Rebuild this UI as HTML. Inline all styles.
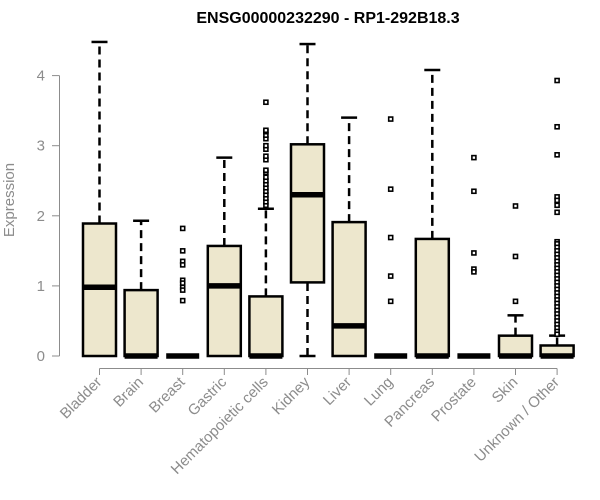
<!DOCTYPE html>
<html><head><meta charset="utf-8"><style>
body{margin:0;background:#fff;}
svg{display:block;font-family:"Liberation Sans",Arial,sans-serif;}
</style></head><body>
<svg id="chart" width="600" height="500" viewBox="0 0 600 500">
<text x="328" y="23" text-anchor="middle" font-size="16" font-weight="bold">ENSG00000232290 - RP1-292B18.3</text>
<text transform="translate(14,200) rotate(-90)" text-anchor="middle" font-size="15" fill="#8c8c8c">Expression</text>
<g id="yaxis"></g>
<g id="xaxis"></g>
<g id="boxes"></g>
</svg>
<script>
const categories=["Bladder","Brain","Breast","Gastric","Hematopoietic cells","Kidney","Liver","Lung","Pancreas","Prostate","Skin","Unknown / Other"];
const whiskerLow=[0,0,0,0,0,0,0,0,0,0,0,0];
const q1=[0,0,0,0,0,1.05,0,0,0,0,0,0];
const medians=[0.98,0,0,1.0,0,2.30,0.43,0,0,0,0,0];
const q3=[1.89,0.94,0,1.57,0.85,3.02,1.91,0,1.67,0,0.29,0.15];
const whiskerHigh=[4.48,1.93,0,2.83,2.10,4.45,3.40,0,4.08,0,0.58,0.29];
const outliers=[[],[],[1.82,1.50,1.35,1.30,1.08,1.04,0.98,0.94,0.79],[],
[2.15,2.2,2.25,2.3,2.35,2.4,2.45,2.5,2.55,2.62,2.65,2.8,2.85,2.95,3.0,3.1,3.15,3.2,3.22,3.62],
[],[],[3.38,2.38,1.69,1.14,0.78],[],[2.83,2.35,1.47,1.24,1.20],[2.14,1.42,0.78],
[3.93,3.27,2.87,2.27,2.22,2.15,2.05,1.63,1.6,1.55,1.5,1.45,1.4,1.35,1.3,1.25,1.2,1.15,1.1,1.05,1.0,0.95,0.9,0.85,0.8,0.75,0.7,0.65,0.6,0.55,0.5,0.45,0.4,0.35,0.31]];
const yTicks=[0,1,2,3,4];
const NS="http://www.w3.org/2000/svg";
function y(v){return 356-v*70.1;}
function x(i){return 99.5+i*41.6;}
function mk(tag,attrs,parent){const e=document.createElementNS(NS,tag);for(const k in attrs)e.setAttribute(k,attrs[k]);parent.appendChild(e);return e;}
const ya=document.getElementById('yaxis'),xa=document.getElementById('xaxis'),bx=document.getElementById('boxes');
let l=mk('line',{x1:59.5,x2:59.5,y1:y(0),y2:y(4),stroke:'#8c8c8c'},ya);


yTicks.forEach(t=>{
 const tk=mk('line',{x1:52,x2:59.5,y1:y(t),y2:y(t),stroke:'#8c8c8c'},ya);
 
 
 const tx=mk('text',{x:45,y:y(t)+5,'text-anchor':'end','font-size':15,fill:'#8c8c8c'},ya);
 tx.textContent=t;
 
 
});
l=mk('line',{x1:x(0),x2:x(categories.length-1),y1:368.5,y2:368.5,stroke:'#8c8c8c'},xa);


categories.forEach((c,i)=>{
 const cx=x(i),w=16.5;
 const tk=mk('line',{x1:cx,x2:cx,y1:368.5,y2:375,stroke:'#8c8c8c'},xa);
 
 
 const tx=mk('text',{transform:`translate(${cx+3},${383}) rotate(-45)`,'text-anchor':'end','font-size':15,fill:'#8c8c8c'},xa);
 tx.textContent=c;
 
 
 const g=mk('g',{},bx);
 
 
 if(whiskerHigh[i]>q3[i]){
  mk('line',{x1:cx,x2:cx,y1:y(q3[i]),y2:y(whiskerHigh[i]),stroke:'#000','stroke-width':2.5,'stroke-dasharray':'8,5'},g);
  mk('line',{x1:cx-8,x2:cx+8,y1:y(whiskerHigh[i]),y2:y(whiskerHigh[i]),stroke:'#000','stroke-width':2.5},g);
 }
 if(q1[i]>whiskerLow[i]){
  mk('line',{x1:cx,x2:cx,y1:y(whiskerLow[i]),y2:y(q1[i]),stroke:'#000','stroke-width':2.5,'stroke-dasharray':'8,5'},g);
  mk('line',{x1:cx-8,x2:cx+8,y1:y(whiskerLow[i]),y2:y(whiskerLow[i]),stroke:'#000','stroke-width':2.5},g);
 }
 if(q3[i]>q1[i]) mk('rect',{x:cx-w,y:y(q3[i]),width:2*w,height:y(q1[i])-y(q3[i]),fill:'#ede7cd',stroke:'#000','stroke-width':2.5},g);
 mk('line',{x1:cx-w,x2:cx+w,y1:y(medians[i]),y2:y(medians[i]),stroke:'#000','stroke-width':5.5},g);
 outliers[i].forEach(v=>{
  const r=mk('rect',{x:cx-2,y:y(v)-2,width:4,height:4,fill:'#fff',stroke:'#000','stroke-width':1.6},g);
  
  
 });
});
</script>
</body></html>
